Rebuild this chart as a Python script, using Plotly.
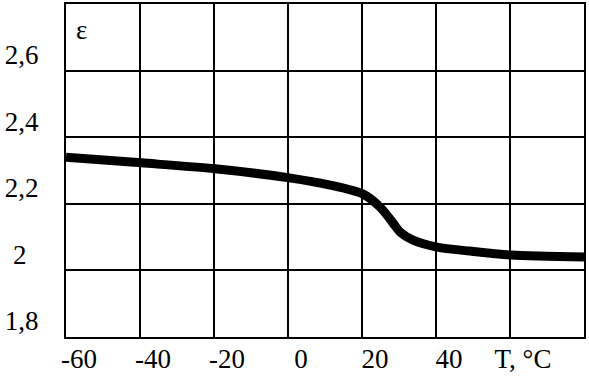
import plotly.graph_objects as go

# Data
temperature = [-60, -39.7, -19.7, 0.3, 11.4, 20.3, 24.9, 28.4, 30.3, 33.8, 40.3, 49.2, 60.3, 80]
epsilon = [2.340, 2.323, 2.305, 2.278, 2.256, 2.229, 2.190, 2.142, 2.115, 2.091, 2.070, 2.058, 2.046, 2.040]

x_tickvals = [-60, -40, -20, 0, 20, 40, 60]
x_ticktext = ["-60", "-40", "-20", "0", "20", "40", "T, °C"]
y_tickvals = [1.8, 2.0, 2.2, 2.4, 2.6]
y_ticktext = ["1,8", "2\u00a0\u2009", "2,2", "2,4", "2,6"]

FONT = "'Liberation Serif', 'Times New Roman', Tinos, 'DejaVu Serif', serif"

fig = go.Figure()
fig.add_trace(go.Scatter(
    x=temperature, y=epsilon, mode="lines",
    line=dict(color="black", width=9, shape="spline", smoothing=0.8),
    showlegend=False, hoverinfo="skip",
))

fig.update_layout(
    width=589, height=381,
    margin=dict(l=66, r=5, t=4, b=44),
    paper_bgcolor="white", plot_bgcolor="white",
    font=dict(family=FONT, size=27, color="black"),
    annotations=[dict(text="ε", x=0.0, y=1.0, xref="paper", yref="paper",
                      xanchor="left", yanchor="top", xshift=8, yshift=-9,
                      showarrow=False, font=dict(family=FONT, size=27, color="black"))],
)
fig.update_xaxes(
    range=[-60, 80], tickvals=x_tickvals, ticktext=x_ticktext,
    showgrid=True, gridcolor="black", gridwidth=2,
    showline=True, linecolor="black", linewidth=2, mirror=True,
    ticks="", zeroline=False, ticklabelshift=13, ticklabelstandoff=-3,
    automargin=False,
    tickfont=dict(family=FONT, size=27, color="black"),
)
fig.update_yaxes(
    range=[1.8, 2.8], tickvals=y_tickvals, ticktext=y_ticktext,
    showgrid=True, gridcolor="black", gridwidth=2,
    showline=True, linecolor="black", linewidth=2, mirror=True,
    ticks="", zeroline=False, ticklabelshift=-16, ticklabelstandoff=20,
    automargin=False,
    tickfont=dict(family=FONT, size=27, color="black"),
)

fig.write_html(
    "out.html",
    config={"displayModeBar": False, "staticPlot": True},
    post_script="document.body.style.margin='0';document.body.style.overflow='hidden';",
)
